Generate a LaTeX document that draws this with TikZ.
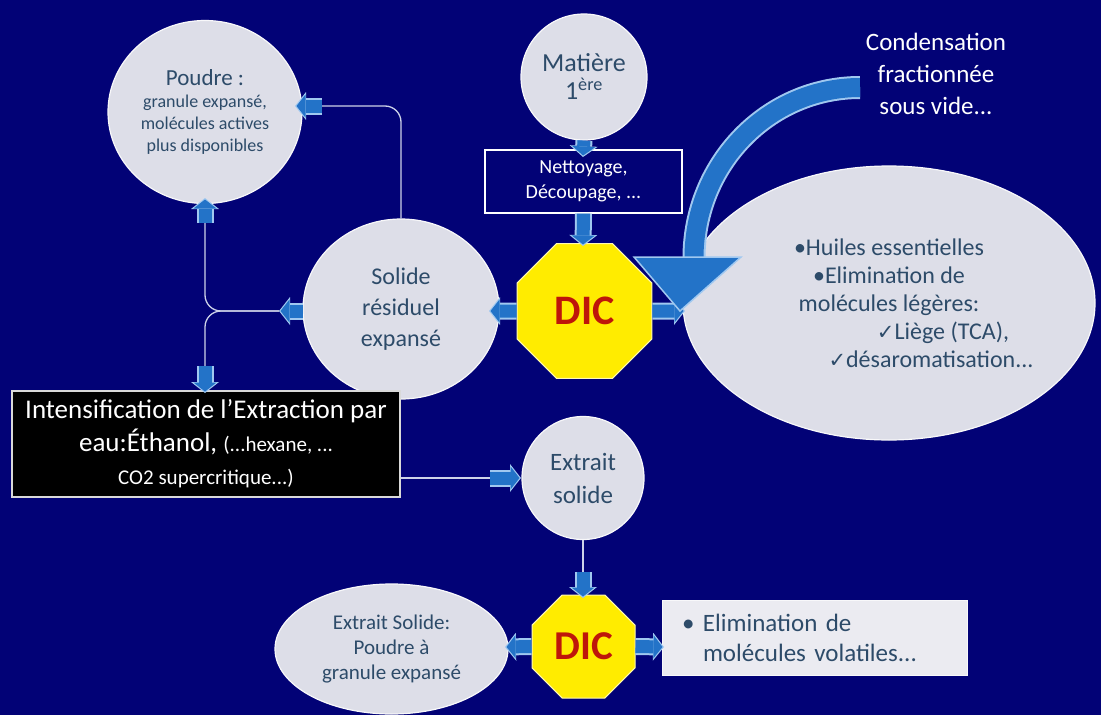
\documentclass[tikz,border=0pt]{standalone}
\usepackage{fontspec}
\setmainfont{Carlito}
\newfontfamily\symbfont{DejaVu Sans}
\usetikzlibrary{shapes.geometric,arrows.meta}
\definecolor{navybg}{RGB}{2,2,118}
\definecolor{bubble}{RGB}{221,222,232}
\definecolor{bubbletext}{RGB}{45,75,105}
\definecolor{arrowblue}{RGB}{35,115,200}
\definecolor{arrowrim}{RGB}{160,200,240}
\definecolor{linkline}{RGB}{205,210,232}
\definecolor{dicyellow}{RGB}{255,236,0}
\definecolor{dicred}{RGB}{190,22,10}
\newcommand\blockarrow[2]{%
  \draw[blockrim] (#1) -- (#2);
  \draw[blockfill] (#1) -- (#2);}
\begin{document}
\begin{tikzpicture}[x=1pt,y=-1pt,
    bubble/.style={ellipse, fill=bubble, draw=white!80!bubble, line width=1.2pt,
                   inner sep=0pt, text=bubbletext, align=center},
    dic/.style={regular polygon, regular polygon sides=8, fill=dicyellow,
                draw=white!70!dicyellow, line width=1pt, inner sep=0pt, text=dicred},
    blockrim/.style={line width=17pt, draw=arrowrim,
                     -{Triangle[width=28pt,length=11pt,line width=0pt]}},
    blockfill/.style={line width=13pt, draw=arrowblue, shorten >=1.5pt,
                      -{Triangle[width=23pt,length=9pt,line width=0pt]}},
    link/.style={draw=linkline, line width=1.3pt, rounded corners=16pt}]

\useasboundingbox (0,0) rectangle (1101,715);
\fill[navybg] (0,0) rectangle (1101,715);

\node[bubble, minimum width=194pt, minimum height=183pt, font=\fontsize{18}{22}\selectfont]
    (poudre) at (205,112) {{\fontsize{23}{28}\selectfont Poudre :}\\granule expansé,\\molécules actives\\plus disponibles};
\node[bubble, minimum size=126pt, font=\fontsize{26}{28}\selectfont]
    (matiere) at (584,77) {Matière\\1\textsuperscript{ère}};
\node[draw=white, line width=1.2pt, fill=navybg, text=white, minimum width=197pt,
      minimum height=63pt, align=center, font=\fontsize{20}{25}\selectfont]
    (nettoyage) at (583.5,181.5) {Nettoyage,\\Découpage, ...};
\node[text=white, align=center, font=\fontsize{25}{32}\selectfont]
    (cond) at (936,74) {Condensation\\fractionnée\\sous vide...};

\node[dic, minimum size=146pt, font=\bfseries\fontsize{42}{42}\selectfont] (dic) at (584.5,311) {DIC};
\node[bubble, minimum width=196pt, minimum height=180pt, font=\fontsize{24}{31}\selectfont]
    (solide) at (401,309) {Solide\\résiduel\\expansé};
\node[bubble, minimum width=412pt, minimum height=274pt, font=\fontsize{24}{28}\selectfont]
    (huiles) at (889,303) {•Huiles essentielles\\•Elimination de\\molécules légères:\\
    \hspace*{108pt}{\symbfont\fontsize{21}{28}\selectfont ✓}Liège (TCA),\\
    \hspace*{84pt}{\symbfont\fontsize{21}{28}\selectfont ✓}désaromatisation...};

\node[draw=white!85!black, line width=1.2pt, fill=black, text=white, minimum width=388pt,
      minimum height=106pt, align=center, font=\fontsize{27}{33}\selectfont]
    (extraction) at (206,444) {Intensification de l’Extraction par\\
    eau:Éthanol, {\fontsize{21}{30}\selectfont(...hexane, ...}\\
    {\fontsize{21}{30}\selectfont CO2 supercritique...)}};
\node[bubble, minimum width=122pt, minimum height=123pt, font=\fontsize{25}{33}\selectfont]
    (extrait) at (583,478) {Extrait\\solide};

\node[dic, minimum size=111.5pt, font=\bfseries\fontsize{41}{41}\selectfont] (dic2) at (583.5,646.5) {DIC};
\node[bubble, minimum width=233pt, minimum height=130pt, font=\fontsize{21}{25}\selectfont]
    (poudre2) at (391.5,649) {Extrait Solide:\\Poudre à\\granule expansé};
\node[fill=bubble!60!white, draw=white!80!bubble, line width=1pt, text=bubbletext,
      minimum width=305pt, minimum height=75pt, text width=265pt, align=left,
      font=\fontsize{25}{30}\selectfont]
    (volatiles) at (814.5,637.5) {\makebox[21pt][l]{•}Elimination de\\\hspace*{21pt}molécules volatiles...};

\coordinate (s1) at (279,311);
\coordinate (p1) at (322,106);
\coordinate (e1) at (490,478);
\coordinate (x1) at (583,572);
\draw[link] (solide.north) |- (p1);
\draw[link] (s1) -| (205,223);
\draw[link] (s1) -| (205,366);
\draw[link] ([yshift=-34pt]extraction.east) -- (e1);
\draw[link] (extrait.south) -- (x1);

\blockarrow{matiere.south}{583,157}
\blockarrow{nettoyage.south}{583,246}
\blockarrow{dic.west}{489,311}
\blockarrow{dic.east}{685,311}
\blockarrow{303,311}{s1}
\blockarrow{p1}{295,106}
\blockarrow{205,223}{205,198}
\blockarrow{205,366}{205,393}
\blockarrow{e1}{521,478}
\blockarrow{x1}{583,598}
\blockarrow{dic2.west}{505,647}
\blockarrow{dic2.east}{664,647}

\draw[line width=23pt, draw=arrowrim] (860,87.5) .. controls (768,87.5) and (694,164) .. (694,258);
\draw[line width=19pt, draw=arrowblue] (860,87.5) .. controls (768,87.5) and (694,164) .. (694,258);
\filldraw[fill=arrowblue, draw=arrowrim, line width=1.5pt] (634,257) -- (741,257) -- (680,311) -- cycle;

\end{tikzpicture}
\end{document}
